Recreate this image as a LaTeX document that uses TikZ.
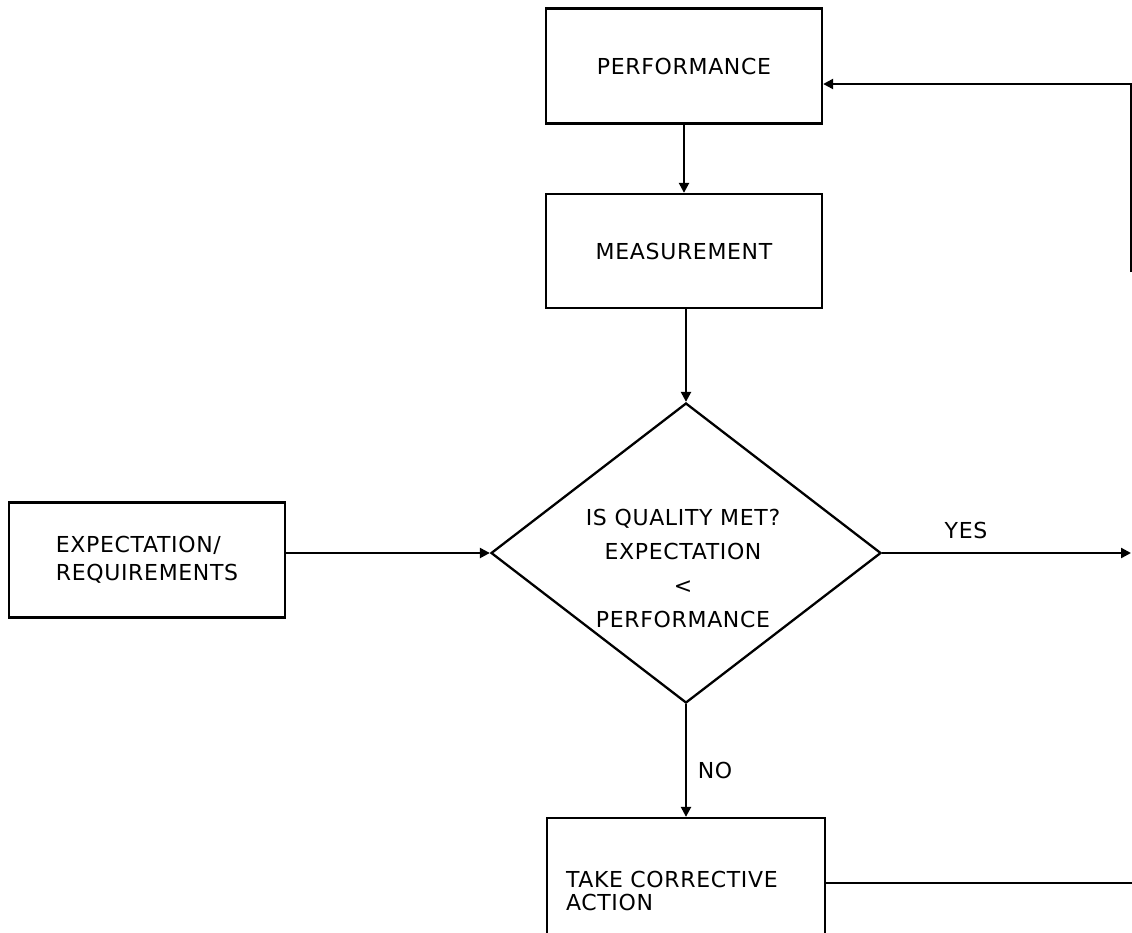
\documentclass[tikz,border=0pt]{standalone}
\usepackage{fontspec}
\setmainfont[LetterSpace=3]{DejaVu Sans}
\usetikzlibrary{shapes.geometric,arrows.meta}
\begin{document}
\begin{tikzpicture}[x=1pt,y=-1pt,
  box/.style={draw, line width=2.3pt, minimum width=276pt, minimum height=115pt,
    inner sep=0pt, font=\fontsize{22}{28}\selectfont},
  flow/.style={draw, line width=2.3pt, -{Triangle[length=10pt,width=10pt]}},
  wire/.style={draw, line width=2.3pt},
  lbl/.style={font=\fontsize{22}{28}\selectfont, inner sep=0pt}]
\useasboundingbox (0,0) rectangle (1132,932);
\clip (0,0) rectangle (1132,932);

% process boxes
\node[box] (perf) at (684,66) {PERFORMANCE};
\node[box, minimum height=114pt] (meas) at (684,251) {MEASUREMENT};
\node[box, align=left, font=\fontsize{22}{28}\selectfont] (req) at (147,560)
  {EXPECTATION/\\REQUIREMENTS};
\node[box, minimum width=278pt, minimum height=146pt, text width=240pt,
  align=left, font=\fontsize{22}{23}\selectfont] (fix) at (686,891)
  {TAKE CORRECTIVE\\ACTION};

% decision
\node[draw, diamond, aspect=1.3, line width=2.3pt, minimum width=390pt,
  minimum height=300pt, inner sep=0pt] (dec) at (686,553) {};
\node[lbl, align=center, font=\fontsize{22}{34}\selectfont] (q) at (683,568)
  {IS QUALITY MET?\\EXPECTATION\\<\\PERFORMANCE};

% connectors
\coordinate (yesend) at (1131,553);
\coordinate (fixout) at (1132,883);
\coordinate (fbtop) at (1131,84);
\coordinate (fbend) at (1131,272);

\draw[flow] (perf.south) -- (meas.north);
\draw[flow] (meas.south -| dec.north) -- (dec.north);
\draw[flow] (req.east |- dec.west) -- (dec.west);
\draw[flow] (dec.east) -- (yesend);
\draw[flow] (dec.south) -- (fix.north);
\draw[wire] (fix.east |- fixout) -- (fixout);
\draw[flow] (fbend) -- (fbtop) -- (perf.east |- fbtop);

% branch labels
\node[lbl] (yes) at (966,530) {YES};
\node[lbl] (no) at (715,770) {NO};
\end{tikzpicture}
\end{document}
